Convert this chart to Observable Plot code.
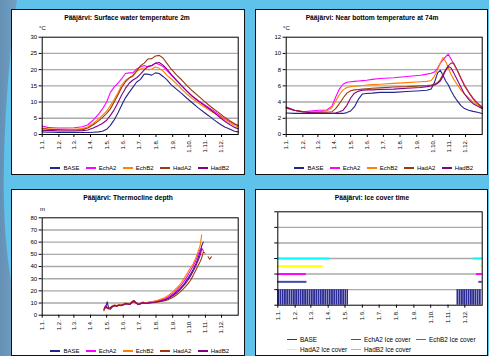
<!DOCTYPE html>
<html>
<head>
<meta charset="utf-8">
<script src="https://cdn.jsdelivr.net/npm/d3@7"></script>
<script src="https://cdn.jsdelivr.net/npm/@observablehq/plot@0.6"></script>
<style>
  html, body { margin: 0; padding: 0; }
  body { width: 489px; height: 356px; overflow: hidden; }
  #root { position: relative; width: 489px; height: 356px; background: #5ec2ea; overflow: hidden;
          font-family: "Liberation Sans", Arial, sans-serif; color: #000; }
  #backdrop { position: absolute; left: 0; top: 0; }
  .panel { position: absolute; background: #fff; border: 1.5px solid #111; box-sizing: border-box; }
  .title { position: absolute; font-weight: bold; font-size: 6.7px; white-space: nowrap; transform: translate(-50%, -50%); }
  .unit { position: absolute; font-size: 6px; white-space: nowrap; }
  .chart { position: absolute; }
  .legend { position: absolute; display: flex; justify-content: center; align-items: center; font-size: 6px; white-space: nowrap; }
  .legend .item { display: flex; align-items: center; margin: 0 3.2px; }
  .legend .sw { display: inline-block; width: 10px; height: 1.6px; margin-right: 3px; }
  .icelegend { position: absolute; display: grid; grid-template-columns: 64px 65px auto; row-gap: 3px; font-size: 6.4px; white-space: nowrap; }
  .icelegend .item { display: flex; align-items: center; }
  .icelegend .sw { display: inline-block; width: 10px; height: 1.8px; margin-right: 3px; }
</style>
</head>
<body>
<div id="root">
  <svg id="backdrop" width="489" height="356">
    <defs>
      <linearGradient id="swoosh" x1="0" y1="0" x2="1" y2="0">
        <stop offset="0" stop-color="#6590b6"/>
        <stop offset="0.7" stop-color="#7aa6c8"/>
        <stop offset="1" stop-color="#9cc8e2"/>
      </linearGradient>
    </defs>
    <path d="M0,0 H17 C8,60 3,140 4,200 C5,265 16,320 34,356 H0 Z" fill="url(#swoosh)"/>
  </svg>
</div>
<script>
// Month ticks on a day-of-year axis (Finnish date style)
const monthLabels = ["1.1.", "1.2.", "1.3.", "1.4.", "1.5.", "1.6.", "1.7.", "1.8.", "1.9.", "1.10.", "1.11.", "1.12."];
const monthStarts = [0, 31, 59, 90, 120, 151, 181, 212, 243, 273, 304, 334];

const scenarios = ["BASE", "EchA2", "EchB2", "HadA2", "HadB2"];
const scenarioColors = ["#24248f", "#ff00ff", "#ff8000", "#9c3a0c", "#860086"];

// Surface water temperature at 2 m (°C)
const surfaceDays = [0, 10, 20, 30, 45, 60, 75, 85, 95, 105, 112, 120, 127, 134, 141, 148, 155, 162, 169, 176,
  183, 190, 197, 204, 211, 218, 225, 232, 240, 250, 260, 270, 280, 290, 300, 310, 320, 330, 340, 350, 358, 365];
const surfaceBASE = [0.8, 0.7, 0.7, 0.6, 0.6, 0.6, 0.6, 0.6, 0.7, 0.8, 1.0, 1.6, 2.8, 4.5, 6.6, 9.0, 11.3, 13.0, 14.6, 16.2,
  17.0, 18.6, 18.6, 18.3, 19.0, 18.8, 17.9, 16.9, 15.4, 14.0, 12.6, 11.1, 9.7, 8.3, 7.0, 5.8, 4.5, 3.3, 2.3, 1.6, 1.0, 0.8];
const surfaceEchA2 = [2.6, 2.2, 2.1, 2.0, 2.0, 2.1, 2.4, 3.0, 4.4, 6.3, 7.8, 10.0, 13.0, 14.6, 15.8, 17.2, 18.8, 19.0, 19.0, 20.2,
  20.8, 21.3, 20.8, 21.2, 22.0, 21.6, 21.0, 19.8, 18.4, 16.6, 15.0, 13.3, 11.8, 10.5, 9.4, 8.3, 7.2, 6.0, 4.8, 3.9, 3.2, 2.8];
const surfaceEchB2 = [2.0, 1.8, 1.7, 1.6, 1.6, 1.6, 1.8, 2.4, 3.4, 4.8, 5.9, 7.2, 8.9, 10.8, 12.8, 15.2, 16.7, 17.5, 17.9, 19.5,
  20.2, 20.6, 20.0, 20.2, 20.8, 20.4, 19.6, 18.3, 17.2, 15.6, 14.0, 12.4, 11.0, 9.8, 8.7, 7.6, 6.6, 5.6, 4.6, 3.6, 2.8, 2.3];
const surfaceHadA2 = [1.8, 1.6, 1.5, 1.5, 1.4, 1.4, 1.5, 2.0, 3.0, 4.2, 5.2, 6.5, 7.9, 10.0, 12.2, 14.5, 16.2, 17.4, 18.2, 19.6,
  21.2, 22.0, 23.3, 23.4, 24.2, 24.4, 23.6, 22.0, 20.2, 18.4, 16.8, 15.0, 13.4, 12.0, 10.5, 9.1, 7.8, 6.6, 5.3, 4.2, 3.3, 2.8];
const surfaceHadB2 = [1.3, 1.2, 1.2, 1.1, 1.1, 1.1, 1.2, 1.4, 2.0, 2.8, 3.4, 4.4, 5.9, 7.6, 9.8, 12.2, 14.2, 15.8, 16.8, 17.5,
  18.6, 19.9, 21.0, 21.3, 22.0, 22.2, 21.4, 20.2, 18.6, 16.8, 15.0, 13.3, 11.7, 10.4, 9.2, 8.0, 6.8, 5.4, 4.1, 3.0, 2.2, 1.8];

// Near-bottom temperature at 74 m (°C)
const bottomDays = [0, 15, 30, 45, 60, 75, 85, 92, 99, 106, 113, 120, 127, 135, 142, 150, 160, 175, 200, 225,
  250, 262, 270, 276, 282, 287, 292, 297, 302, 307, 312, 318, 325, 332, 340, 348, 356, 365];
const bottomBASE = [2.65, 2.6, 2.6, 2.6, 2.6, 2.6, 2.6, 2.6, 2.6, 2.6, 2.7, 2.9, 3.4, 4.4, 5.0, 5.05, 5.1, 5.2, 5.2, 5.3,
  5.4, 5.45, 5.6, 6.4, 7.6, 7.9, 7.3, 6.6, 6.1, 5.4, 4.8, 4.2, 3.6, 3.2, 3.0, 2.85, 2.75, 2.6];
const bottomEchA2 = [3.35, 3.0, 2.8, 2.9, 3.0, 3.0, 3.5, 4.6, 5.6, 6.2, 6.45, 6.5, 6.55, 6.6, 6.65, 6.7, 6.8, 6.9, 7.0, 7.15,
  7.3, 7.45, 7.55, 7.7, 8.2, 8.8, 9.2, 9.6, 9.9, 9.3, 8.7, 8.0, 7.0, 6.1, 5.2, 4.5, 3.9, 3.4];
const bottomEchB2 = [3.2, 3.0, 2.85, 2.8, 2.8, 2.9, 3.3, 4.1, 4.9, 5.5, 5.8, 5.9, 5.95, 6.0, 6.05, 6.1, 6.15, 6.2, 6.3, 6.4,
  6.5, 6.55, 6.65, 7.2, 8.0, 8.8, 9.5, 9.0, 8.2, 7.4, 6.8, 6.2, 5.5, 5.0, 4.5, 4.0, 3.6, 3.2];
const bottomHadA2 = [3.4, 3.0, 2.8, 2.75, 2.75, 2.75, 2.8, 3.2, 3.8, 4.5, 5.1, 5.4, 5.5, 5.55, 5.6, 5.65, 5.7, 5.75, 5.85, 5.9,
  6.0, 6.05, 6.1, 6.2, 6.4, 6.8, 7.4, 8.0, 8.5, 8.8, 8.8, 8.0, 7.0, 6.0, 5.2, 4.4, 3.8, 3.3];
const bottomHadB2 = [3.3, 3.0, 2.8, 2.7, 2.65, 2.6, 2.6, 2.65, 2.8, 3.0, 3.6, 4.5, 5.1, 5.35, 5.45, 5.5, 5.5, 5.55, 5.6, 5.7,
  5.8, 5.9, 6.0, 6.1, 6.3, 6.6, 7.2, 7.9, 8.4, 8.2, 7.6, 6.8, 5.9, 5.0, 4.3, 3.8, 3.5, 3.2];

// Thermocline depth (m); null where no stratification is present
const thermoDays = [115, 118, 121, 124, 127, 131, 135, 139, 143, 147, 151, 155, 159, 163, 167, 171, 175, 179, 183, 187,
  191, 196, 201, 206, 211, 216, 221, 226, 231, 236, 241, 246, 251, 256, 261, 266, 271, 276, 281, 286,
  290, 294, 297, 300, 303, 306, 309, 312, 315];
const thermoBASE = [null, 6, 11, 5.5, 5, 7, 8, 7.5, 8.5, 8, 8.8, 9.5, 9.2, 8.8, 10.5, 11.2, 10, 8.8, 9.5, 10.2,
  9.8, 10, 10.4, 10.6, 11, 11.4, 12, 12.6, 13.4, 14.6, 16, 17.6, 19.5, 21.6, 24, 26.8, 30, 33.5, 37.5, 42,
  46.5, 52, 57, 60, null, null, null, null, null];
const thermoEchA2 = [4, 8, 6, 5, 6, 7.8, 8.2, 7.2, 8.8, 8.2, 8.6, 9.8, 9.4, 9.2, 11, 12, 10.4, 9, 9.8, 10.6,
  10.2, 10.2, 10.8, 10.9, 11.4, 11.8, 12.4, 13.2, 14.2, 15.4, 17, 18.8, 21, 23.4, 26, 29, 32.5, 36.5, 40.5, 45,
  49.5, 54, 55, 53, null, null, null, null, null];
const thermoEchB2 = [3.5, 7, 5.5, 5.2, 6.2, 8, 8.5, 7.8, 9, 8.5, 9, 10, 9.8, 9.4, 11.2, 11.8, 10.2, 9.2, 10, 10.8,
  10.4, 10.6, 11.2, 11.4, 11.8, 12.4, 13.2, 14, 15.2, 16.6, 18.4, 20.4, 22.6, 25, 28, 31.5, 35, 39, 42, 47,
  52, 57, 66, null, null, null, null, null, null];
const thermoHadA2 = [4.5, 6.5, 6, 5.5, 5.5, 7.2, 7.8, 7.4, 8.2, 7.8, 8.4, 9.2, 9.2, 8.8, 10.2, 11, 9.8, 8.8, 9.2, 10,
  9.6, 9.6, 10, 10.2, 10.4, 10.8, 11.2, 11.6, 12.2, 13, 14.2, 15.4, 17, 18.8, 20.8, 23, 25.5, 28.5, 32.5, 37,
  40.5, 44, 47, 52, 51, null, 48, 46, 48];
const thermoHadB2 = [5, 7.5, 6.2, 5.8, 6.2, 7.4, 8, 7.6, 8.4, 8.2, 8.7, 9.6, 9.4, 9, 10.8, 12, 10.2, 8.8, 9.6, 10.3,
  9.9, 9.9, 10.2, 10.4, 10.8, 11.2, 11.7, 12.2, 13, 14, 15.3, 16.8, 18.6, 20.6, 23, 25.5, 28.5, 32, 36, 40.5,
  44.5, 49, 54.5, null, null, null, null, null, null];

// Ice cover: BASE as columns, scenarios as bars at stacked levels
const iceSeries = ["BASE", "EchA2 Ice cover", "EchB2 Ice cover", "HadA2 Ice cover", "HadB2 Ice cover"];
const iceColors = ["#2c2c96", "#4848a8", "#ff00ff", "#ffff00", "#00ffff"];
const iceLevels = [1, 1.5, 2, 2.5, 3];
const iceSpringEnd = [127, 52, 51, 81, 93];
const iceAutumnStart = [320, 359, 355, 363, 349];

const root = document.getElementById("root");
const FONT = "'Liberation Sans', Arial, sans-serif";

function el(tag, cls, css, text) {
  const e = document.createElement(tag);
  if (cls) e.className = cls;
  Object.assign(e.style, css || {});
  if (text != null) e.textContent = text;
  root.appendChild(e);
  return e;
}

function xAxis() {
  return {
    domain: [0, 365], ticks: monthStarts, tickFormat: d => monthLabels[monthStarts.indexOf(d)],
    tickRotate: -90, tickSize: 3, tickPadding: 2, label: null
  };
}

function toRows(days, seriesList) {
  const rows = [];
  seriesList.forEach((values, i) => values.forEach((v, j) => rows.push({ scenario: scenarios[i], day: days[j], value: v })));
  return rows;
}

function linePlot({ rows, yDomain, yTicks, box }) {
  return Plot.plot({
    width: box.w, height: box.h,
    marginLeft: box.ml, marginRight: box.mr, marginTop: box.mt, marginBottom: box.mb,
    style: { background: "transparent", fontFamily: FONT, fontSize: "6px", color: "#000", overflow: "visible" },
    x: xAxis(),
    y: { domain: yDomain, ticks: yTicks, tickSize: 3, tickPadding: 2, label: null },
    color: { domain: scenarios, range: scenarioColors },
    marks: [
      Plot.ruleY(yTicks.slice(1, -1), { stroke: "#a9a9a9", strokeWidth: 1.4 }),
      Plot.line(rows, { x: "day", y: "value", z: "scenario", stroke: "scenario", strokeWidth: 1.1 }),
      Plot.frame({ stroke: "#000", strokeWidth: 1 })
    ]
  });
}

function panel(left, top, w, h) {
  el("div", "panel", { left: left + "px", top: top + "px", width: w + "px", height: h + "px" });
}

function place(node, left, top) {
  node.classList.add("chart");
  node.style.left = left + "px";
  node.style.top = top + "px";
  root.appendChild(node);
}

function scenarioLegend(left, width, cy) {
  const lg = el("div", "legend", { left: left + "px", width: width + "px", top: (cy - 4) + "px", height: "8px" });
  scenarios.forEach((name, i) => {
    const it = document.createElement("div");
    it.className = "item";
    const sw = document.createElement("span");
    sw.className = "sw";
    sw.style.background = scenarioColors[i];
    it.appendChild(sw);
    it.appendChild(document.createTextNode(name));
    lg.appendChild(it);
  });
}

// Panel 1: surface water temperature
panel(11, 9, 234, 166);
el("div", "title", { left: "127px", top: "17px" }, "Pääjärvi: Surface water temperature 2m");
el("div", "unit", { left: "39px", top: "25px" }, "°C");
place(linePlot({
  rows: toRows(surfaceDays, [surfaceBASE, surfaceEchA2, surfaceEchB2, surfaceHadA2, surfaceHadB2]),
  yDomain: [0, 30], yTicks: [0, 5, 10, 15, 20, 25, 30],
  box: { w: 233, h: 132, ml: 30.7, mr: 6.3, mt: 8.7, mb: 26 }
}), 11, 28);
scenarioLegend(41.7, 196, 168);

// Panel 2: near-bottom temperature
panel(255, 9, 233, 166);
el("div", "title", { left: "372px", top: "17px" }, "Pääjärvi: Near bottom temperature at 74m");
el("div", "unit", { left: "283px", top: "25px" }, "°C");
place(linePlot({
  rows: toRows(bottomDays, [bottomBASE, bottomEchA2, bottomEchB2, bottomHadA2, bottomHadB2]),
  yDomain: [0, 12], yTicks: [0, 2, 4, 6, 8, 10, 12],
  box: { w: 232, h: 132, ml: 30.7, mr: 5.3, mt: 8.7, mb: 26 }
}), 255, 28);
scenarioLegend(285.7, 196, 168);

// Panel 3: thermocline depth
panel(11, 189, 234, 167);
el("div", "title", { left: "128px", top: "197px" }, "Pääjärvi: Thermocline depth");
el("div", "unit", { left: "40px", top: "206px" }, "m");
place(linePlot({
  rows: toRows(thermoDays, [thermoBASE, thermoEchA2, thermoEchB2, thermoHadA2, thermoHadB2]),
  yDomain: [0, 80], yTicks: [0, 10, 20, 30, 40, 50, 60, 70, 80],
  box: { w: 233, h: 132, ml: 30.7, mr: 6.3, mt: 9.3, mb: 25.3 }
}), 11, 208);
scenarioLegend(41.7, 196, 351);

// Panel 4: ice cover time
panel(255, 189, 233, 167);
el("div", "title", { left: "372px", top: "197px" }, "Pääjärvi: Ice cover time");

const baseColumns = [];
for (let d = 0; d < iceSpringEnd[0]; d += 4) baseColumns.push({ x1: d, x2: Math.min(d + 4, iceSpringEnd[0]) });
for (let d = iceAutumnStart[0]; d < 365; d += 4) baseColumns.push({ x1: d, x2: Math.min(d + 4, 365) });

const iceBars = [];
iceSeries.forEach((name, i) => {
  if (i === 0) return;
  iceBars.push({ name, level: iceLevels[i], from: 0, to: iceSpringEnd[i] });
  iceBars.push({ name, level: iceLevels[i], from: iceAutumnStart[i], to: 365 });
});

place(Plot.plot({
  width: 232, height: 132, marginLeft: 22.3, marginRight: 5.3, marginTop: 11.3, marginBottom: 27.3,
  style: { background: "transparent", fontFamily: FONT, fontSize: "6px", color: "#000", overflow: "visible" },
  x: xAxis(),
  y: { domain: [0, 6], ticks: [0, 1, 2, 3, 4, 5, 6], tickFormat: () => "", tickSize: 3, tickPadding: 0, label: null },
  color: { domain: iceSeries, range: iceColors },
  marks: [
    Plot.ruleY([1, 2, 3, 4, 5], { stroke: "#a9a9a9", strokeWidth: 1.4 }),
    Plot.rect(baseColumns, { x1: "x1", x2: "x2", y1: 0, y2: iceLevels[0], fill: iceColors[0], insetRight: 0.4 }),
    Plot.ruleY(iceBars, { y: "level", x1: "from", x2: "to", stroke: "name", strokeWidth: 2 }),
    Plot.frame({ stroke: "#000", strokeWidth: 1 })
  ]
}), 255, 200);

const iceLegend = el("div", "icelegend", { left: "287px", top: "336px" });
iceSeries.forEach((name, i) => {
  const it = document.createElement("div");
  it.className = "item";
  const sw = document.createElement("span");
  sw.className = "sw";
  sw.style.background = iceColors[i];
  if (i === 0) sw.style.height = "1.2px";
  it.appendChild(sw);
  it.appendChild(document.createTextNode(name));
  iceLegend.appendChild(it);
});
</script>
</body>
</html>
